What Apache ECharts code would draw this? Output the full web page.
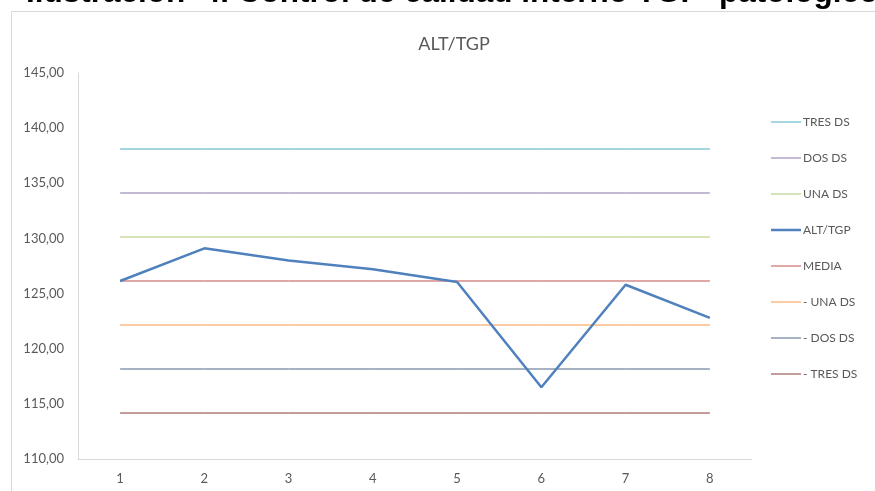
<!DOCTYPE html>
<html>
<head>
<meta charset="utf-8">
<script src="https://cdn.jsdelivr.net/npm/echarts@6/dist/echarts.min.js"></script>
<style>
  html, body { margin: 0; padding: 0; background: #ffffff; }
  #chart { width: 875px; height: 491px; }
</style>
</head>
<body>
<div id="chart"></div>
<script>
// Muestras de control (eje X) y valores medidos de ALT/TGP
const categories = ['1', '2', '3', '4', '5', '6', '7', '8'];
const altTgp = [126.14, 129.10, 128.00, 127.20, 126.05, 116.50, 125.80, 122.80];

// Límites de control (media ± 1, 2 y 3 DS), uno por muestra
const tresDs      = [138.11, 138.11, 138.11, 138.11, 138.11, 138.11, 138.11, 138.11];
const dosDs       = [134.12, 134.12, 134.12, 134.12, 134.12, 134.12, 134.12, 134.12];
const unaDs       = [130.13, 130.13, 130.13, 130.13, 130.13, 130.13, 130.13, 130.13];
const media       = [126.14, 126.14, 126.14, 126.14, 126.14, 126.14, 126.14, 126.14];
const menosUnaDs  = [122.15, 122.15, 122.15, 122.15, 122.15, 122.15, 122.15, 122.15];
const menosDosDs  = [118.16, 118.16, 118.16, 118.16, 118.16, 118.16, 118.16, 118.16];
const menosTresDs = [114.17, 114.17, 114.17, 114.17, 114.17, 114.17, 114.17, 114.17];

// Marcas del eje Y
const yTicks = { min: 110, max: 145, interval: 5 };

const textColor = '#595959';
const font = 'Lato, "Open Sans", sans-serif';

// Iconos de leyenda: segmento horizontal centrado en una caja de 30x14
const thinIcon  = 'path://M0,0M30,14M0,6.5H30V7.5H0Z';
const thickIcon = 'path://M0,0M30,14M0,5.75H30V8.25H0Z';

function limitLine(name, data, color) {
  return {
    name: name,
    type: 'line',
    data: data,
    symbol: 'none',
    silent: true,
    z: 2,
    lineStyle: { color: color, width: 1 },
    itemStyle: { color: color }
  };
}

const chart = echarts.init(document.getElementById('chart'), null, { renderer: 'canvas' });

chart.setOption({
  animation: false,
  backgroundColor: '#ffffff',
  graphic: [
    {
      type: 'text',
      left: 26,
      top: -23,
      z: -20,
      style: {
        text: 'Ilustración  4. Control de calidad interno TGP  patológico',
        font: 'bold 31.5px "Liberation Sans", Arial, sans-serif',
        fill: '#000000'
      }
    },
    {
      type: 'rect',
      z: -10,
      shape: { x: 11.5, y: 11.5, width: 900, height: 520 },
      style: { fill: '#ffffff', stroke: '#d9d9d9', lineWidth: 1 }
    }
  ],
  title: {
    text: 'ALT/TGP',
    left: 449,
    top: 30,
    textAlign: 'center',
    textStyle: { fontFamily: font, fontSize: 18, fontWeight: 'normal', color: textColor }
  },
  legend: {
    orient: 'vertical',
    left: 766,
    top: 110,
    itemWidth: 30,
    itemHeight: 14,
    itemGap: 22,
    textStyle: { fontFamily: font, fontSize: 12, color: textColor, padding: [0, 0, 0, -3] },
    data: [
      { name: 'TRES DS', icon: thinIcon },
      { name: 'DOS DS', icon: thinIcon },
      { name: 'UNA DS', icon: thinIcon },
      { name: 'ALT/TGP', icon: thickIcon },
      { name: 'MEDIA', icon: thinIcon },
      { name: '- UNA DS', icon: thinIcon },
      { name: '- DOS DS', icon: thinIcon },
      { name: '- TRES DS', icon: thinIcon }
    ]
  },
  grid: { left: 78, right: 123, top: 73, bottom: 32, containLabel: false },
  xAxis: {
    type: 'category',
    data: categories,
    boundaryGap: true,
    axisLine: { lineStyle: { color: '#d9d9d9', width: 1 } },
    axisTick: { show: false },
    axisLabel: { color: textColor, fontFamily: font, fontSize: 13, margin: 13 },
    splitLine: { show: false }
  },
  yAxis: {
    type: 'value',
    min: yTicks.min,
    max: yTicks.max,
    interval: yTicks.interval,
    axisLine: { show: true, lineStyle: { color: '#d9d9d9', width: 1 } },
    axisTick: { show: false },
    splitLine: { show: false },
    axisLabel: {
      color: textColor,
      fontFamily: font,
      fontSize: 13,
      margin: 14,
      formatter: v => v.toFixed(2).replace('.', ',')
    }
  },
  series: [
    limitLine('TRES DS', tresDs, '#4bacc6'),
    limitLine('DOS DS', dosDs, '#8a76ac'),
    limitLine('UNA DS', unaDs, '#a9c873'),
    {
      name: 'ALT/TGP',
      type: 'line',
      data: altTgp,
      symbol: 'none',
      z: 5,
      lineStyle: { color: '#4f81bd', width: 2.5 },
      itemStyle: { color: '#4f81bd' }
    },
    limitLine('MEDIA', media, '#c0504d'),
    limitLine('- UNA DS', menosUnaDs, '#f79646'),
    limitLine('- DOS DS', menosDosDs, '#4e6688'),
    limitLine('- TRES DS', menosTresDs, '#843b39')
  ]
});
</script>
</body>
</html>
